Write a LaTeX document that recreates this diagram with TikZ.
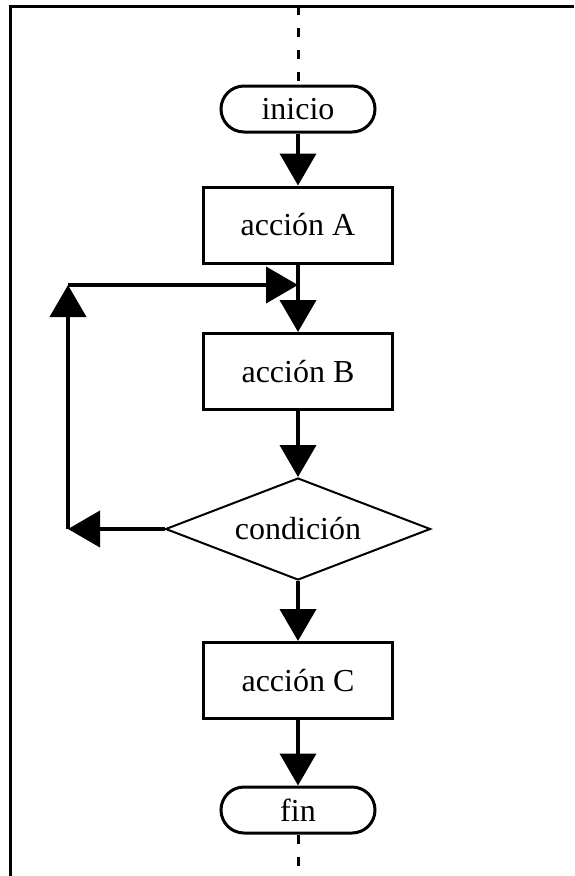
\documentclass[tikz,border=0pt]{standalone}
\usepackage{fontspec}
\setmainfont{Liberation Serif}
\usetikzlibrary{arrows.meta}
\usetikzlibrary{shapes.geometric}

\begin{document}
\begin{tikzpicture}[x=1pt,y=-1pt,
    bloque/.style={draw, line width=3pt, rectangle, minimum width=189pt, minimum height=76pt, inner sep=0pt},
    terminal/.style={draw, line width=3pt, rectangle, rounded corners=23pt, minimum width=154pt, minimum height=46pt, inner sep=0pt},
    decision/.style={draw, line width=2pt, diamond, aspect=2.6, minimum width=265pt, minimum height=102pt, inner sep=0pt},
    flecha/.style={line width=4pt, -{Triangle[length=32pt, width=36pt]}},
    guia/.style={line width=3pt, dash pattern=on 9pt off 13pt},
    font=\fontsize{32}{36}\selectfont]
          \useasboundingbox (0,0) rectangle (574,876);
          % marco
          \draw[line width=3pt] (10,876) -- (10,6) -- (574,6);

          % nodos
          \node[terminal] (inicio) at (298,109) {inicio};
          \node[bloque] (accA) at (298,225) {acción A};
          \node[bloque] (accB) at (298,371.5) {acción B};
          \node[decision] (cond) at (298,529) {condición};
          \node[bloque] (accC) at (298,680.5) {acción C};
          \node[terminal] (fin) at (298,810) {fin};

          % lineas de guia
          \coordinate (arriba) at (298,6);
          \coordinate (abajo) at (298,876);
          \draw[guia] (arriba) -- (inicio.north);
          \draw[guia] (fin.south) -- (abajo);

          % flujo principal
          \draw[flecha] (inicio) -- (accA);
          \draw[flecha] (accA) -- (accB);
          \draw[flecha] (accB) -- (cond);
          \draw[flecha] (cond) -- (accC);
          \draw[flecha] (accC) -- (fin);

          % bucle de repeticion
          \coordinate (esqInf) at (68,529);
          \coordinate (esqSup) at (68,285);
          \coordinate (union) at (accA.south |- esqSup);
          \draw[flecha] (cond.west) -- (esqInf);
          \draw[flecha] (esqInf) -- (esqSup);
          \draw[flecha] (esqSup) -- (union);
      \end{tikzpicture}
\end{document}
